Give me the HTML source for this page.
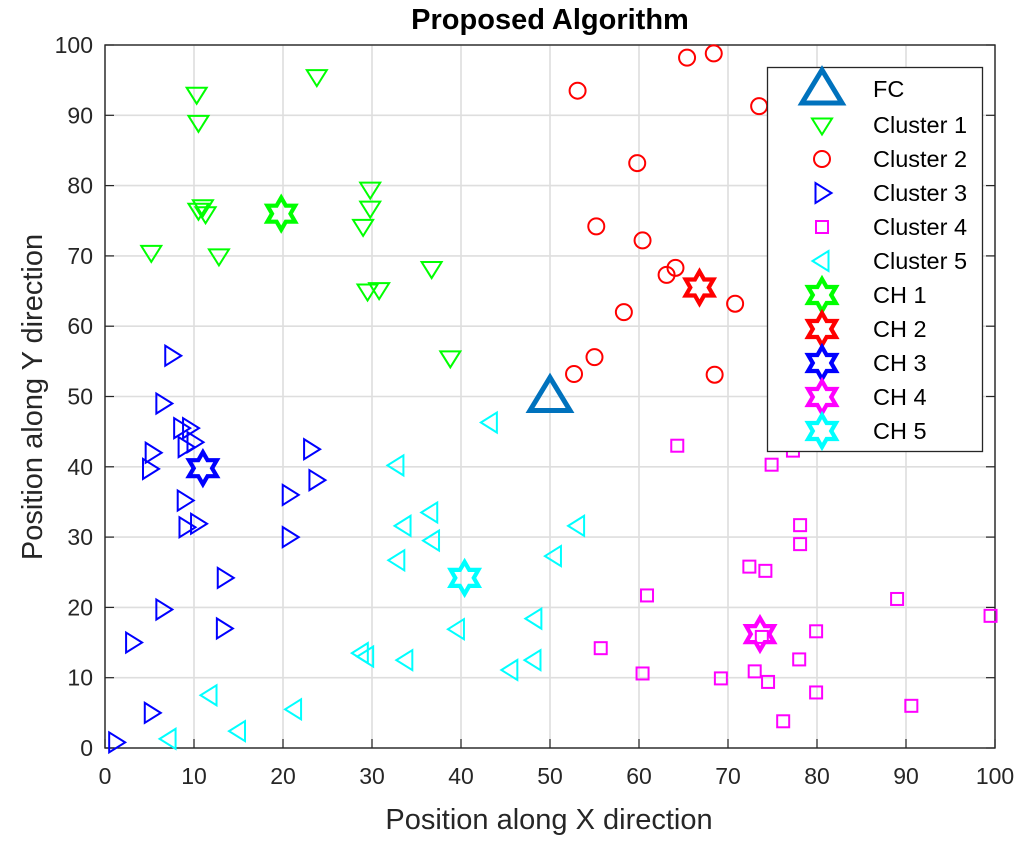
<!DOCTYPE html>
<html><head><meta charset="utf-8"><style>
body{margin:0;background:#fff;}
svg{display:block;font-family:"Liberation Sans",sans-serif;}
</style></head><body>
<svg id="chart" width="1024" height="842" viewBox="0 0 1024 842">
<rect width="1024" height="842" fill="#fff"/>
<g id="grid"></g>
<g id="axes"></g>
<g id="marks"></g>
<g id="legend"></g>
</svg>
<script>
const xTicks=[0,10,20,30,40,50,60,70,80,90,100];
const yTicks=[0,10,20,30,40,50,60,70,80,90,100];
const c1x=[10.3,10.5,23.8,10.5,11,11.3,5.2,12.8,29.8,29.8,29,36.7,29.5,30.8,38.8];
const c1y=[93,89,95.5,76.5,77,76,70.5,70,79.5,76.8,74.2,68.2,65,65.2,55.5];
const c2x=[53.1,65.4,68.4,73.5,59.8,55.2,60.4,63.1,64.1,70.8,58.3,55,52.7,68.5];
const c2y=[93.5,98.2,98.8,91.3,83.2,74.2,72.2,67.3,68.3,63.2,62,55.6,53.2,53.1];
const c3x=[7.5,6.5,5.3,5,8.5,9.5,9,10,8.9,9.1,10.4,13.4,13.3,6.5,3.1,5.2,1.2,20.7,20.7,23.1,23.7];
const c3y=[55.8,49,42,39.7,45.5,45.5,42.8,43.5,35.2,31.4,31.9,24.2,17,19.7,15,5,0.8,36,30,42.5,38.1];
const c4x=[64.3,74.9,77.3,78.1,78.1,72.4,74.2,60.9,55.7,60.4,69.2,73,74.5,76.2,78,79.9,79.9,89,90.6,99.5,73.8];
const c4y=[43,40.3,42.3,31.7,29,25.8,25.2,21.7,14.2,10.6,9.9,10.9,9.4,3.8,12.6,16.6,7.9,21.2,6,18.8,15.8];
const c5x=[43.3,32.8,33.6,36.6,36.8,32.9,53.1,50.5,39.6,48.3,48.2,45.6,28.8,29.4,33.8,11.8,21.3,15,7.2];
const c5y=[46.3,40.2,31.6,33.5,29.5,26.7,31.6,27.3,16.9,18.4,12.5,11.1,13.5,13,12.5,7.5,5.5,2.4,1.3];
const chX=[19.8,66.8,11,73.6,40.4];
const chY=[76,65.5,39.8,16.2,24.2];
const fcX=[50], fcY=[50];

const NS="http://www.w3.org/2000/svg";
const X0=105,X1=995,Y0=748,Y1=45;
const sx=v=>X0+(X1-X0)*v/100, sy=v=>Y0-(Y0-Y1)*v/100;
function mk(tag,attrs,parent){const e=document.createElementNS(NS,tag);for(const k in attrs)e.setAttribute(k,attrs[k]);parent.appendChild(e);return e;}
const grid=document.getElementById('grid'),axes=document.getElementById('axes'),marks=document.getElementById('marks'),legend=document.getElementById('legend');
xTicks.forEach(t=>{
 const l=mk('line',{x1:sx(t),x2:sx(t),y1:Y0,y2:Y1,stroke:'#dedede','stroke-width':1.6},grid);
 
 
 const tk=mk('line',{x1:sx(t),x2:sx(t),y1:Y0,y2:Y0-9,stroke:'#262626','stroke-width':1.2},axes);
 
 
 const tx=mk('text',{x:sx(t),y:784,'text-anchor':'middle','font-size':23,fill:'#262626'},axes);
 tx.textContent=t;
 
 
});
yTicks.forEach(t=>{
 const l=mk('line',{x1:X0,x2:X1,y1:sy(t),y2:sy(t),stroke:'#dedede','stroke-width':1.6},grid);
 
 
 const tk=mk('line',{x1:X0,x2:X0+9,y1:sy(t),y2:sy(t),stroke:'#262626','stroke-width':1.2},axes);
 
 
 const tk2=mk('line',{x1:X1,x2:X1-9,y1:sy(t),y2:sy(t),stroke:'#262626','stroke-width':1.2},axes);
 
 
 const tx=mk('text',{x:93,y:sy(t)+8,'text-anchor':'end','font-size':23,fill:'#262626'},axes);
 tx.textContent=t;
 
 
});
const frame=mk('rect',{x:X0,y:Y1,width:X1-X0,height:Y0-Y1,fill:'none',stroke:'#262626','stroke-width':1.4},axes);


const title=mk('text',{x:550,y:29,'text-anchor':'middle','font-size':29,'font-weight':'bold',fill:'#000'},axes);
title.textContent='Proposed Algorithm';


const xl=mk('text',{x:549,y:829,'text-anchor':'middle','font-size':29,fill:'#262626'},axes);
xl.textContent='Position along X direction';


const yl=mk('text',{x:0,y:0,'text-anchor':'middle','font-size':29,fill:'#262626',transform:'translate(42,397) rotate(-90)'},axes);
yl.textContent='Position along Y direction';



function shape(type,cx,cy,color,parent,s){
 s=s||1;let e;
 if(type==='down'){const r=10*s;e=mk('polygon',{points:`${cx-r},${cy-r*0.65} ${cx+r},${cy-r*0.65} ${cx},${cy+r*0.95}`,fill:'none',stroke:color,'stroke-width':2},parent);}
 else if(type==='right'){const r=10*s;e=mk('polygon',{points:`${cx-r*0.65},${cy-r} ${cx-r*0.65},${cy+r} ${cx+r*0.95},${cy}`,fill:'none',stroke:color,'stroke-width':2},parent);}
 else if(type==='left'){const r=10*s;e=mk('polygon',{points:`${cx+r*0.65},${cy-r} ${cx+r*0.65},${cy+r} ${cx-r*0.95},${cy}`,fill:'none',stroke:color,'stroke-width':2},parent);}
 else if(type==='circle'){e=mk('circle',{cx:cx,cy:cy,r:8,fill:'none',stroke:color,'stroke-width':2},parent);}
 else if(type==='square'){e=mk('rect',{x:cx-6,y:cy-6,width:12,height:12,fill:'none',stroke:color,'stroke-width':2},parent);}
 else if(type==='hex'){const R=16,r=R/Math.sqrt(3);let p=[];for(let i=0;i<12;i++){const a=-Math.PI/2+i*Math.PI/6;const rr=i%2?r:R;p.push((cx+rr*Math.cos(a)).toFixed(1)+','+(cy+rr*Math.sin(a)).toFixed(1));}
  e=mk('polygon',{points:p.join(' '),fill:'none',stroke:color,'stroke-width':4.2,'stroke-linejoin':'miter'},parent);}
 else if(type==='fc'){e=mk('polygon',{points:`${cx-20},${cy+14} ${cx+20},${cy+14} ${cx},${cy-19}`,fill:'none',stroke:'#0072bd','stroke-width':5},parent);}
 return e;
}
function series(xs,ys,type,color,name){
 xs.forEach((v,i)=>{const e=shape(type,sx(v),sy(ys[i]),color,marks);
  
  });
}
series(c1x,c1y,'down','#00ff00','cluster-1-point');
series(c2x,c2y,'circle','#ff0000','cluster-2-point');
series(c3x,c3y,'right','#0000ff','cluster-3-point');
series(c4x,c4y,'square','#ff00ff','cluster-4-point');
series(c5x,c5y,'left','#00ffff','cluster-5-point');
const chColors=['#00ff00','#ff0000','#0000ff','#ff00ff','#00ffff'];
chX.forEach((v,i)=>{const e=shape('hex',sx(v),sy(chY[i]),chColors[i],marks);
 
 });
const fc=shape('fc',sx(fcX[0]),sy(fcY[0]),'#0072bd',marks);



const lb=mk('rect',{x:767.5,y:67.5,width:215,height:384,fill:'#fff',stroke:'#262626','stroke-width':1.3},legend);


const entries=[['fc','#0072bd','FC'],['down','#00ff00','Cluster 1'],['circle','#ff0000','Cluster 2'],['right','#0000ff','Cluster 3'],['square','#ff00ff','Cluster 4'],['left','#00ffff','Cluster 5'],['hex','#00ff00','CH 1'],['hex','#ff0000','CH 2'],['hex','#0000ff','CH 3'],['hex','#ff00ff','CH 4'],['hex','#00ffff','CH 5']];
const ys=[89,125,159,193,227,261,295,329,363,397,431];
entries.forEach((en,i)=>{
 const g=mk('g',{},legend);
 
 
 shape(en[0],822,ys[i],en[1],g);
 const t=mk('text',{x:873,y:ys[i]+8,'font-size':23.5,fill:'#000'},g);
 t.textContent=en[2];
});
</script>
</body></html>
